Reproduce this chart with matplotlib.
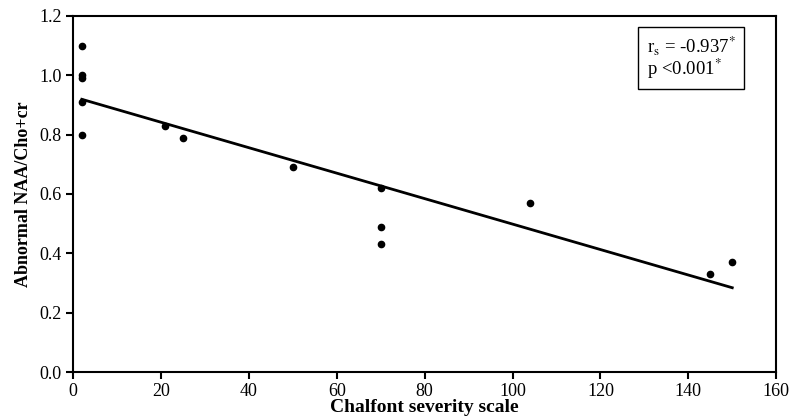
import numpy as np
import matplotlib
matplotlib.use("Agg")
import matplotlib.pyplot as plt

plt.rcParams['font.family'] = ['Liberation Serif', 'DejaVu Serif']
plt.rcParams['mathtext.fontset'] = 'stix'

severity = [2, 2, 2, 2, 2, 21, 25, 50, 70, 70, 70, 104, 145, 150]
naa_ratio = [1.10, 1.00, 0.99, 0.91, 0.80, 0.83, 0.79, 0.69, 0.62, 0.49, 0.43, 0.57, 0.33, 0.37]
x_ticks = [0, 20, 40, 60, 80, 100, 120, 140, 160]
y_ticks = [0.0, 0.2, 0.4, 0.6, 0.8, 1.0, 1.2]

fig = plt.figure(figsize=(7.91, 4.19), dpi=100)
ax = fig.add_axes([0.0923, 0.112, 0.889, 0.85])

ax.plot(severity, naa_ratio, 'o', color='black', markersize=4.5, zorder=3)
slope, intercept = np.polyfit(severity, naa_ratio, 1)
xs = np.array([min(severity), max(severity)])
ax.plot(xs, slope * xs + intercept, color='black', linewidth=2)

ax.set_xlim(0, 160)
ax.set_ylim(0, 1.2)
ax.set_xticks(x_ticks)
ax.set_yticks(y_ticks)
ax.set_yticklabels([f"{v:.1f}" for v in y_ticks])
ax.tick_params(direction='out', length=5, width=1.5, labelsize=13, colors='black', pad=3)
for s in ax.spines.values():
    s.set_linewidth(1.5)

ax.set_xlabel('Chalfont severity scale', fontsize=14, fontweight='bold', labelpad=-1)
ax.set_ylabel('Abnormal NAA/Cho+cr', fontsize=13, fontweight='bold', labelpad=5)

ax.text(0.816, 0.95, 'r$_\\mathrm{s}$ = -0.937$^{*}$\np <0.001$^{*}$', transform=ax.transAxes,
        fontsize=13.5, va='top', ha='left', linespacing=1.0,
        bbox=dict(boxstyle='square,pad=0.45', facecolor='white', edgecolor='black', linewidth=1))

fig.savefig('out.png', dpi=100)
